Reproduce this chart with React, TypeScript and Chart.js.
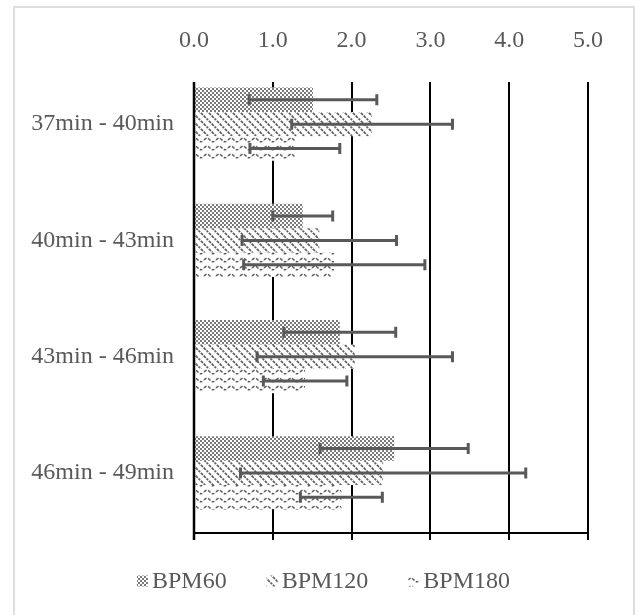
import React, { useEffect, useRef } from 'react';
import { Chart, registerables } from 'chart.js';

Chart.register(...registerables);

const categories = ['37min - 40min', '40min - 43min', '43min - 46min', '46min - 49min'];
const seriesNames = ['BPM60', 'BPM120', 'BPM180'];
const bpm60 = [1.51, 1.38, 1.85, 2.54];
const err60 = [0.81, 0.38, 0.71, 0.94];
const bpm120 = [2.26, 1.59, 2.04, 2.40];
const err120 = [1.02, 0.98, 1.24, 1.81];
const bpm180 = [1.28, 1.78, 1.41, 1.87];
const err180 = [0.57, 1.15, 0.53, 0.52];
const xMin = 0;
const xMax = 5;
const xStep = 1;

const FONT = "'Liberation Serif', 'Times New Roman', serif";
const TEXT = '#595959';
const GRID_TOP = 82;

function makePattern(kind: string): CanvasPattern | string {
  const c = document.createElement('canvas');
  let w = 4, h = 4;
  if (kind === 'diag') { w = 8; h = 8; }
  if (kind === 'wave') { w = 12; h = 8; }
  c.width = w; c.height = h;
  const g = c.getContext('2d');
  if (!g) return '#888';
  g.fillStyle = '#ffffff';
  g.fillRect(0, 0, w, h);
  if (kind === 'check') {
    g.fillStyle = '#7a7a7a';
    g.fillRect(0, 0, 2, 2);
    g.fillRect(2, 2, 2, 2);
  } else if (kind === 'diag') {
    g.strokeStyle = '#606060';
    g.lineWidth = 1.7;
    g.setLineDash([3, 1]);
    g.beginPath();
    g.moveTo(-2, -2); g.lineTo(10, 10);
    g.moveTo(-2, 6); g.lineTo(2, 10);
    g.moveTo(6, -2); g.lineTo(10, 2);
    g.stroke();
  } else {
    g.strokeStyle = '#5a5a5a';
    g.lineWidth = 1.5;
    g.setLineDash([3, 1.5]);
    g.beginPath();
    g.moveTo(0, 4);
    g.quadraticCurveTo(3, 0.5, 6, 4);
    g.quadraticCurveTo(9, 7.5, 12, 4);
    g.stroke();
  }
  return g.createPattern(c, 'repeat') || '#888';
}

export default function App() {
  const ref = useRef<HTMLCanvasElement>(null);

  useEffect(() => {
    const canvas = ref.current;
    if (!canvas) return;
    const patterns = [makePattern('check'), makePattern('diag'), makePattern('wave')];
    const errors = [err60, err120, err180];

    const decorations = {
      id: 'decorations',
      beforeDatasetsDraw(chart: any) {
        const ctx = chart.ctx;
        const xs = chart.scales.x;
        const bottom = chart.chartArea.bottom + 2;
        ctx.save();
        ctx.strokeStyle = '#000';
        ctx.lineWidth = 2;
        ctx.beginPath();
        for (let v = xMin + xStep; v <= xMax; v += xStep) {
          const px = Math.round(xs.getPixelForValue(v));
          ctx.moveTo(px, GRID_TOP);
          ctx.lineTo(px, bottom + 7);
        }
        ctx.moveTo(xs.getPixelForValue(xMin) - 1, bottom);
        ctx.lineTo(xs.getPixelForValue(xMax) + 1, bottom);
        ctx.stroke();
        ctx.restore();
      },
      afterDatasetsDraw(chart: any) {
        const ctx = chart.ctx;
        const xs = chart.scales.x;
        const bottom = chart.chartArea.bottom + 2;
        ctx.save();
        ctx.strokeStyle = '#000';
        ctx.lineWidth = 2.5;
        ctx.beginPath();
        const x0 = xs.getPixelForValue(xMin);
        ctx.moveTo(x0, GRID_TOP);
        ctx.lineTo(x0, bottom + 7);
        ctx.stroke();
        ctx.strokeStyle = '#595959';
        ctx.lineWidth = 3;
        chart.data.datasets.forEach((ds: any, di: number) => {
          const meta = chart.getDatasetMeta(di);
          meta.data.forEach((bar: any, i: number) => {
            const v = ds.data[i];
            const e = errors[di][i];
            const x1 = xs.getPixelForValue(v - e);
            const x2 = xs.getPixelForValue(v + e);
            const y = bar.y;
            ctx.beginPath();
            ctx.moveTo(x1, y); ctx.lineTo(x2, y);
            ctx.moveTo(x1, y - 5.5); ctx.lineTo(x1, y + 5.5);
            ctx.moveTo(x2, y - 5.5); ctx.lineTo(x2, y + 5.5);
            ctx.stroke();
          });
        });
        ctx.restore();
      },
      afterDraw(chart: any) {
        const ctx = chart.ctx;
        ctx.save();
        ctx.font = `24px ${FONT}`;
        ctx.textBaseline = 'middle';
        ctx.textAlign = 'left';
        const box = 11, gap = 4, itemGap = 40;
        const widths = seriesNames.map((n) => ctx.measureText(n).width);
        const total = widths.reduce((a, b) => a + b, 0) + seriesNames.length * (box + gap) + (seriesNames.length - 1) * itemGap;
        let x = 323.5 - total / 2;
        const y = 581;
        seriesNames.forEach((n, i) => {
          ctx.fillStyle = patterns[i];
          ctx.fillRect(x, y - box / 2, box, box);
          x += box + gap;
          ctx.fillStyle = TEXT;
          ctx.fillText(n, x, y + 1);
          x += widths[i] + itemGap;
        });
        ctx.restore();
      },
    };

    const chart = new Chart(canvas, {
      type: 'bar',
      data: {
        labels: categories,
        datasets: [
          { label: seriesNames[0], data: bpm60, backgroundColor: patterns[0] as any, borderWidth: 0 },
          { label: seriesNames[1], data: bpm120, backgroundColor: patterns[1] as any, borderWidth: 0 },
          { label: seriesNames[2], data: bpm180, backgroundColor: patterns[2] as any, borderWidth: 0 },
        ],
      },
      options: {
        indexAxis: 'y',
        responsive: false,
        animation: false,
        devicePixelRatio: 1,
        categoryPercentage: 0.628,
        barPercentage: 1,
        layout: { padding: { left: 0, right: 47, top: 0, bottom: 84 } },
        plugins: {
          legend: { display: false },
          tooltip: { enabled: false },
        },
        scales: {
          x: {
            position: 'top',
            min: xMin,
            max: xMax,
            ticks: {
              stepSize: xStep,
              padding: 11,
              color: TEXT,
              font: { family: FONT, size: 24 },
              callback: (v: any) => Number(v).toFixed(1),
            },
            grid: { display: false, drawTicks: false },
            border: { display: false },
            afterFit: (s: any) => { s.height = 66; },
          },
          y: {
            ticks: {
              padding: 20,
              color: TEXT,
              font: { family: FONT, size: 24 },
            },
            grid: { display: false, drawTicks: false },
            border: { display: false },
            afterFit: (s: any) => { s.width = 194; },
          },
        },
      },
      plugins: [decorations],
    } as any);
    return () => chart.destroy();
  }, []);

  return (
    <div style={{ position: 'fixed', left: 0, top: 0, width: 635, height: 615, overflow: 'hidden', background: '#fff' }}>
      <div style={{ position: 'absolute', left: 13, top: 6, width: 622, height: 640, border: '2px solid #dedede', boxSizing: 'border-box' }} />
      <canvas ref={ref} width={635} height={615} style={{ position: 'absolute', left: 0, top: 0, width: 635, height: 615 }} />
    </div>
  );
}
